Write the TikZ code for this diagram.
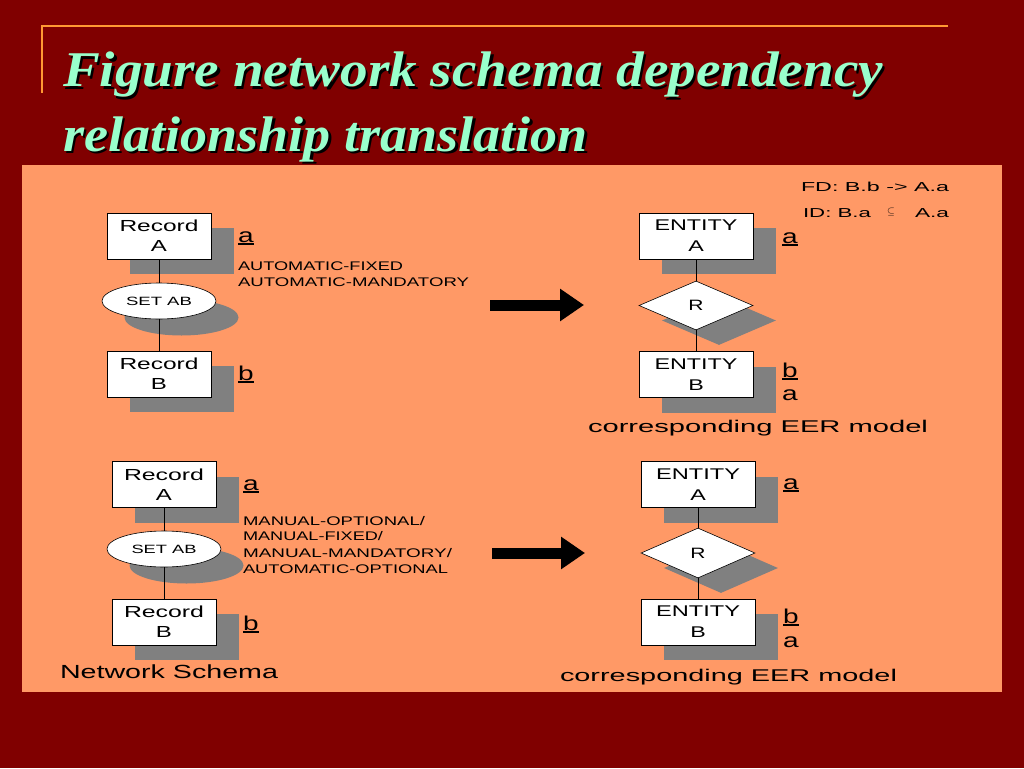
\documentclass[tikz,border=0pt]{standalone}
\usepackage{fontspec}
\setmainfont{Liberation Sans}
\newfontfamily\titlefont{Liberation Serif}
\usetikzlibrary{shapes.geometric,shadows,arrows.meta}
\newcommand\fitw[2]{\resizebox{#1}{\height}{#2}}
\newcommand\ulin[1]{\setbox0\hbox{#1}\rlap{\rule[-2.6pt]{\wd0}{1.3pt}}\box0}
\newcommand\shtext[1]{\makebox[0pt][l]{\kern2.5pt\raisebox{-2.5pt}{\color{black}#1}}#1}
\definecolor{bgred}{HTML}{800000}
\definecolor{panelor}{HTML}{FF9966}
\definecolor{titlegreen}{HTML}{99FFCC}
\definecolor{ruleor}{HTML}{FF9933}
\definecolor{shgray}{HTML}{808080}
\tikzset{
  shad/.style={drop shadow={shadow xshift=23pt,shadow yshift=-15pt,fill=shgray,opacity=1}},
  recbox/.style={rectangle,draw=black,line width=0.6pt,fill=white,inner sep=0pt,align=center,
    minimum width=104pt,minimum height=46pt,font=\fontsize{16}{20}\selectfont,shad},
  entbox/.style={rectangle,draw=black,line width=0.6pt,fill=white,inner sep=0pt,align=center,
    minimum width=114pt,minimum height=46pt,font=\fontsize{15.5}{21}\selectfont,shad},
  setell/.style={ellipse,draw=black,line width=0.6pt,fill=white,inner sep=0pt,
    minimum width=114pt,minimum height=36pt,font=\fontsize{12}{14}\selectfont,
    drop shadow={shadow xshift=22.5pt,shadow yshift=-16.5pt,fill=shgray,opacity=1}},
  reldia/.style={diamond,draw=black,line width=0.6pt,fill=white,inner sep=0pt,
    minimum width=114pt,minimum height=49pt,font=\fontsize{15}{18}\selectfont,shad},
  txt/.style={anchor=base west,inner sep=0pt,outer sep=0pt},
  attr/.style={txt,font=\fontsize{20}{20}\selectfont},
  note/.style={txt,font=\fontsize{12.5}{16}\selectfont},
  captext/.style={txt,font=\fontsize{17}{20}\selectfont},
  conn/.style={draw=black,line width=0.8pt},
  bigarrow/.style={draw=black,line width=11pt,-{Triangle[length=24pt,width=31pt]}},
  titletxt/.style={txt,text=titlegreen,font=\titlefont\bfseries\itshape\fontsize{50}{60}\selectfont}
}
\begin{document}
\begin{tikzpicture}[x=1pt,y=-1pt]
\useasboundingbox (0,0) rectangle (1024,768);
\fill[bgred] (0,0) rectangle (1024,768);
% top rule
\draw[ruleor,line width=1.6pt] (42,93) -- (42,26) -- (948,26);
% title with shadow
\node[titletxt] (t1) at (63,87) {\shtext{\fitw{820pt}{Figure network schema dependency}}};
\node[titletxt] (t2) at (63,151) {\shtext{\fitw{525pt}{relationship translation}}};
% panel
\fill[panelor] (22,165) rectangle (1002,692);

% ---------- top left: network schema ----------
\node[recbox] (recA) at (159,236) {\fitw{79pt}{Record}\\\scalebox{1.5}[1]{A}};
\node[setell] (setA) at (159,301) {\fitw{66pt}{SET AB}};
\node[recbox] (recB) at (159,374) {\fitw{79pt}{Record}\\\scalebox{1.5}[1]{B}};
\draw[conn] (recA) -- (setA);
\draw[conn] (setA) -- (recB);
\node[attr] (aTL) at (238,242) {\ulin{\scalebox{1.4}[1]{a}}};
\node[attr] (bTL) at (238,380) {\ulin{\scalebox{1.4}[1]{b}}};
\node[note] (n1) at (238,270) {\fitw{165pt}{AUTOMATIC-FIXED}};
\node[note] (n2) at (238,286) {\fitw{231pt}{AUTOMATIC-MANDATORY}};

% arrows
\coordinate (arr1s) at (490,305);
\coordinate (arr1e) at (584,305);
\draw[bigarrow] (arr1s) -- (arr1e);
\coordinate (arr2s) at (492,553);
\coordinate (arr2e) at (585,553);
\draw[bigarrow] (arr2s) -- (arr2e);

% ---------- top right: EER ----------
\node[note,font=\fontsize{13}{16}\selectfont] (fd) at (801,191) {\fitw{148pt}{FD: B.b -> A.a}};
\node[note,font=\fontsize{13}{16}\selectfont] (id1) at (803,217) {\fitw{68pt}{ID: B.a}};
\node[txt,font=\fontsize{10}{10}\selectfont] (idsub) at (887,214.5) {$\subseteq$};
\node[note,font=\fontsize{13}{16}\selectfont] (id2) at (915,217) {\fitw{34pt}{A.a}};

\node[entbox] (entA) at (696,236) {\fitw{83pt}{ENTITY}\\\scalebox{1.5}[1]{A}};
\node[reldia] (relR) at (696,305.5) {\scalebox{1.4}[1]{R}};
\node[entbox] (entB) at (696,374.5) {\fitw{83pt}{ENTITY}\\\scalebox{1.5}[1]{B}};
\draw[conn] (entA) -- (relR);
\draw[conn] (relR) -- (entB);
\node[attr] (aTR) at (782,243) {\ulin{\scalebox{1.4}[1]{a}}};
\node[attr] (bTR) at (782,377) {\ulin{\scalebox{1.4}[1]{b}}};
\node[attr] (a2TR) at (782,400) {\scalebox{1.4}[1]{a}};
\node[captext] (cap1) at (588,432) {\fitw{340pt}{corresponding EER model}};

% ---------- bottom left ----------
\node[recbox] (recA2) at (164,484.5) {\fitw{80pt}{Record}\\\scalebox{1.5}[1]{A}};
\node[setell] (setA2) at (164,549) {\fitw{65pt}{SET AB}};
\node[recbox] (recB2) at (164,622) {\fitw{80pt}{Record}\\\scalebox{1.5}[1]{B}};
\draw[conn] (recA2) -- (setA2);
\draw[conn] (setA2) -- (recB2);
\node[attr] (aBL) at (243,490) {\ulin{\scalebox{1.4}[1]{a}}};
\node[attr] (bBL) at (243,630) {\ulin{\scalebox{1.4}[1]{b}}};
\node[note] (m1) at (243,525) {\fitw{182pt}{MANUAL-OPTIONAL/}};
\node[note] (m2) at (243,540.5) {\fitw{140pt}{MANUAL-FIXED/}};
\node[note] (m3) at (243,557) {\fitw{209pt}{MANUAL-MANDATORY/}};
\node[note] (m4) at (243,573) {\fitw{205pt}{AUTOMATIC-OPTIONAL}};
\node[txt,font=\fontsize{19}{22}\selectfont] (ns) at (60,678) {\fitw{218pt}{Network Schema}};

% ---------- bottom right ----------
\node[entbox] (entA2) at (698,484.5) {\fitw{84pt}{ENTITY}\\\scalebox{1.5}[1]{A}};
\node[reldia,minimum height=50pt] (relR2) at (698,553) {\scalebox{1.4}[1]{R}};
\node[entbox] (entB2) at (698,622) {\fitw{84pt}{ENTITY}\\\scalebox{1.5}[1]{B}};
\draw[conn] (entA2) -- (relR2);
\draw[conn] (relR2) -- (entB2);
\node[attr] (aBR) at (783,489) {\ulin{\scalebox{1.4}[1]{a}}};
\node[attr] (bBR) at (783,623) {\ulin{\scalebox{1.4}[1]{b}}};
\node[attr] (a2BR) at (783,647) {\scalebox{1.4}[1]{a}};
\node[captext] (cap2) at (560,681) {\fitw{337pt}{corresponding EER model}};
\end{tikzpicture}
\end{document}
